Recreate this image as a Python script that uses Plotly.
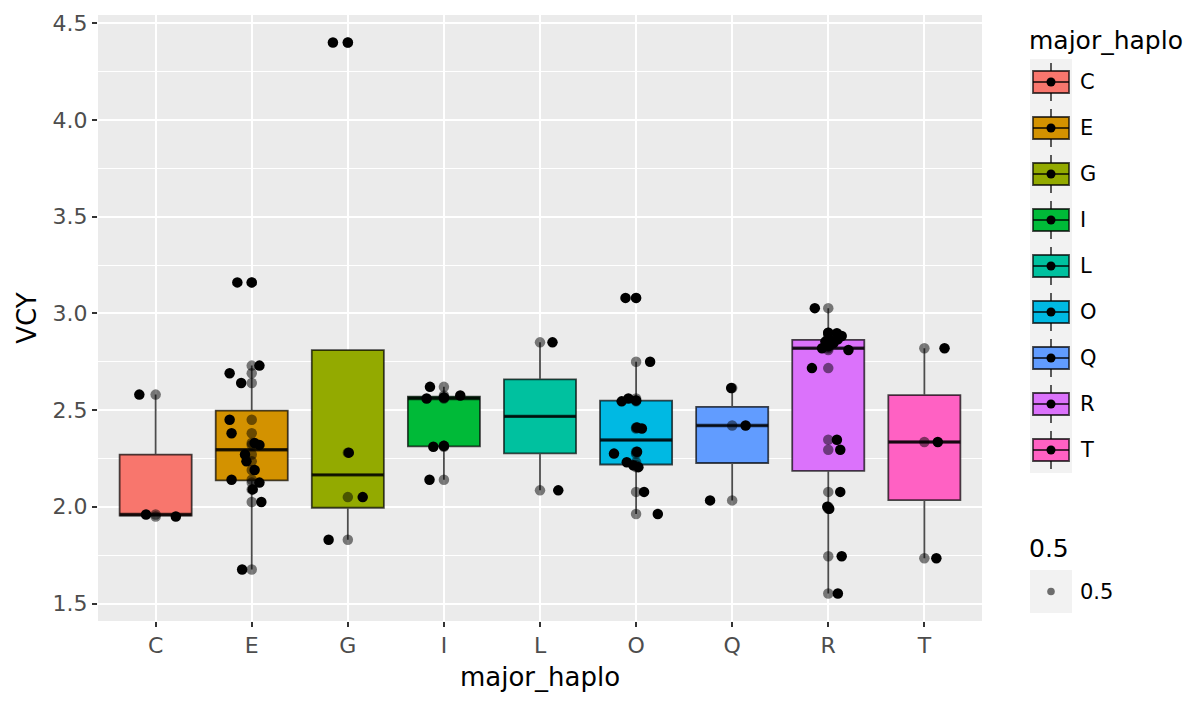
import numpy as np
import plotly.graph_objects as go

# Haplogroup categories and VCY measurements per group
categories = ["C", "E", "G", "I", "L", "O", "Q", "R", "T"]

vcy_C = [1.95, 1.96, 2.58]
vcy_E = [1.676, 2.025, 2.09, 2.125, 2.14, 2.19, 2.235, 2.27, 2.32, 2.33,
         2.38, 2.45, 2.64, 2.69, 2.73, 3.16]
vcy_G = [1.83, 2.05, 2.28, 4.40]
vcy_I = [2.14, 2.31, 2.315, 2.56, 2.565, 2.575, 2.62]
vcy_L = [2.085, 2.85]
vcy_O = [1.963, 2.077, 2.205, 2.215, 2.23, 2.275, 2.285, 2.405, 2.41,
         2.545, 2.55, 2.56, 2.75, 3.08]
vcy_Q = [2.033, 2.42, 2.614]
vcy_R = [1.552, 1.744, 1.99, 2.00, 2.077, 2.295, 2.347, 2.717, 2.811, 2.82,
         2.83, 2.846, 2.854, 2.86, 2.866, 2.883, 2.897, 2.90, 3.027]
vcy_T = [1.734, 2.335, 2.82]

# Horizontal jitter offsets (category units) for the jittered layer
jit_C = [0.21, -0.10, -0.17]
jit_E = [-0.10, 0.10, 0.01, 0.08, -0.21, 0.03, -0.055, -0.07, 0.08, 0.03,
         -0.21, -0.23, -0.11, -0.23, 0.08, -0.15]
jit_G = [-0.20, 0.155, 0.01, -0.155]
jit_I = [-0.15, -0.11, 0.0, -0.18, 0.0, 0.17, -0.145]
jit_L = [0.19, 0.13]
jit_O = [0.226, 0.083, 0.024, -0.03, -0.097, -0.23, 0.01, 0.06, 0.01,
         -0.15, 0.0, -0.08, 0.146, -0.11]
jit_Q = [-0.23, 0.14, -0.01]
jit_R = [0.10, 0.14, 0.01, -0.01, 0.125, 0.125, 0.09, -0.17, 0.21, -0.065,
         0.0, 0.055, -0.03, 0.02, 0.10, 0.14, 0.09, 0.0, -0.14]
jit_T = [0.125, 0.14, 0.21]

group_values = [vcy_C, vcy_E, vcy_G, vcy_I, vcy_L, vcy_O, vcy_Q, vcy_R, vcy_T]
group_jitter = [jit_C, jit_E, jit_G, jit_I, jit_L, jit_O, jit_Q, jit_R, jit_T]

# ggplot2 default hue palette for 9 levels
fill_colors = ["#F8766D", "#D39200", "#93AA00", "#00BA38", "#00C19F",
               "#00B9E3", "#619CFF", "#DB72FB", "#FF61C3"]

alpha_label = "0.5"

FONT = "DejaVu Sans"
TICK_SIZE = 22
TITLE_SIZE = 26
PT_SIZE = 10.5
BOX_LINE = "rgba(0,0,0,0.7)"
BOX_WIDTH = 0.75
W, H = 1191, 702
ML, MR, MT, MB = 98, 209, 15, 81

fig = go.Figure()

all_vals = np.concatenate([np.asarray(v, float) for v in group_values])
span = all_vals.max() - all_vals.min()
y_range = [all_vals.min() - 0.05 * span, all_vals.max() + 0.05 * span]

med_x, med_y, out_x, out_y = [], [], [], []
for i, (vals, col) in enumerate(zip(group_values, fill_colors)):
    v = np.asarray(vals, float)
    q1, med, q3 = np.percentile(v, [25, 50, 75])
    iqr = q3 - q1
    inside = v[(v >= q1 - 1.5 * iqr) & (v <= q3 + 1.5 * iqr)]
    lo = min(inside.min(), q1)
    hi = max(inside.max(), q3)
    outliers = v[(v < q1 - 1.5 * iqr) | (v > q3 + 1.5 * iqr)]
    fig.add_trace(go.Box(
        x=[i], q1=[q1], median=[med], q3=[q3],
        lowerfence=[lo], upperfence=[hi],
        width=BOX_WIDTH, whiskerwidth=0, boxpoints=False,
        fillcolor=col, line=dict(color=BOX_LINE, width=1.8),
        showlegend=False, hoverinfo="skip",
    ))
    med_x += [i - BOX_WIDTH / 2, i + BOX_WIDTH / 2, None]
    med_y += [med, med, None]
    out_x += [i] * len(outliers)
    out_y += list(outliers)

# Thicker median bars
fig.add_trace(go.Scatter(x=med_x, y=med_y, mode="lines",
                         line=dict(color=BOX_LINE, width=3.4),
                         showlegend=False, hoverinfo="skip"))
# Box-plot outliers
fig.add_trace(go.Scatter(x=out_x, y=out_y, mode="markers",
                         marker=dict(color="black", size=PT_SIZE, line=dict(width=0)),
                         showlegend=False, hoverinfo="skip"))

# Semi-transparent points at the category centre, then the jittered copies
cx, cy, jx, jy = [], [], [], []
for i, (vals, jit) in enumerate(zip(group_values, group_jitter)):
    cx += [i] * len(vals)
    cy += list(vals)
    jx += [i + d for d in jit]
    jy += list(vals)

fig.add_trace(go.Scatter(x=cx, y=cy, mode="markers",
                         marker=dict(color="rgba(0,0,0,0.5)", size=PT_SIZE, line=dict(width=0)),
                         showlegend=False, hoverinfo="skip"))
fig.add_trace(go.Scatter(x=jx, y=jy, mode="markers",
                         marker=dict(color="black", size=PT_SIZE, line=dict(width=0)),
                         showlegend=False, hoverinfo="skip"))

# ---- hand-built legends (pixel positions converted to paper coords) ----
PW = W - ML - MR
PH = H - MT - MB


def px(x):
    return (x - ML) / PW


def py(y):
    return 1 - (y - MT) / PH


shapes = []
annotations = []

annotations.append(dict(x=px(1027), y=py(40), xref="paper", yref="paper",
                        text="major_haplo", showarrow=False, xanchor="left",
                        yanchor="middle", font=dict(family=FONT, size=TITLE_SIZE - 1, color="black")))

key_x0, key_x1 = 1030, 1072
key_cx = (key_x0 + key_x1) / 2
key_h = 46
for k, (lab, col) in enumerate(zip(categories, fill_colors)):
    yc = 82 + key_h * k
    shapes.append(dict(type="rect", xref="paper", yref="paper",
                       x0=px(key_x0), x1=px(key_x1), y0=py(yc - key_h / 2), y1=py(yc + key_h / 2),
                       fillcolor="#F2F2F2", line=dict(width=0), layer="above"))
    shapes.append(dict(type="line", xref="paper", yref="paper",
                       x0=px(key_cx), x1=px(key_cx), y0=py(yc - 19), y1=py(yc + 19),
                       line=dict(color=BOX_LINE, width=1.8), layer="above"))
    shapes.append(dict(type="rect", xref="paper", yref="paper",
                       x0=px(key_x0 + 3), x1=px(key_x1 - 3), y0=py(yc - 11), y1=py(yc + 11),
                       fillcolor=col, line=dict(color=BOX_LINE, width=1.8), layer="above"))
    shapes.append(dict(type="line", xref="paper", yref="paper",
                       x0=px(key_x0 + 3), x1=px(key_x1 - 3), y0=py(yc), y1=py(yc),
                       line=dict(color=BOX_LINE, width=1.8), layer="above"))
    shapes.append(dict(type="circle", xref="paper", yref="paper",
                       x0=px(key_cx - 4.5), x1=px(key_cx + 4.5), y0=py(yc - 4.5), y1=py(yc + 4.5),
                       fillcolor="black", line=dict(width=0), layer="above"))
    annotations.append(dict(x=px(1078), y=py(yc), xref="paper", yref="paper",
                            text=lab, showarrow=False, xanchor="left", yanchor="middle",
                            font=dict(family=FONT, size=TICK_SIZE - 1, color="black")))

# alpha legend
annotations.append(dict(x=px(1027), y=py(548), xref="paper", yref="paper",
                        text=alpha_label, showarrow=False, xanchor="left",
                        yanchor="middle", font=dict(family=FONT, size=TITLE_SIZE - 1, color="black")))
shapes.append(dict(type="rect", xref="paper", yref="paper",
                   x0=px(key_x0), x1=px(key_x1), y0=py(570), y1=py(613),
                   fillcolor="#F2F2F2", line=dict(width=0), layer="above"))
shapes.append(dict(type="circle", xref="paper", yref="paper",
                   x0=px(key_cx - 3.8), x1=px(key_cx + 3.8), y0=py(591.5 - 3.8), y1=py(591.5 + 3.8),
                   fillcolor="rgba(0,0,0,0.55)", line=dict(width=0), layer="above"))
annotations.append(dict(x=px(1078), y=py(592), xref="paper", yref="paper",
                        text=alpha_label, showarrow=False, xanchor="left", yanchor="middle",
                        font=dict(family=FONT, size=TICK_SIZE - 1, color="black")))

fig.update_layout(
    width=W, height=H,
    margin=dict(l=ML, r=MR, t=MT, b=MB, autoexpand=False),
    paper_bgcolor="white", plot_bgcolor="#EBEBEB",
    boxmode="overlay", showlegend=False,
    font=dict(family=FONT),
    shapes=shapes, annotations=annotations,
)
fig.update_xaxes(
    range=[-0.6, len(categories) - 0.4],
    tickmode="array", tickvals=list(range(len(categories))), ticktext=categories,
    showgrid=True, gridcolor="white", gridwidth=2, zeroline=False,
    ticks="outside", ticklen=5, tickwidth=1.5, tickcolor="#333333",
    tickfont=dict(family=FONT, size=TICK_SIZE, color="#4D4D4D"),
    title=dict(text="major_haplo", font=dict(family=FONT, size=TITLE_SIZE, color="black"), standoff=10),
    automargin=False, showline=False,
)
fig.update_yaxes(
    range=y_range, tick0=1.5, dtick=0.5, tickformat=".1f",
    showgrid=True, gridcolor="white", gridwidth=2, zeroline=False,
    ticks="outside", ticklen=5, tickwidth=1.5, tickcolor="#333333",
    tickfont=dict(family=FONT, size=TICK_SIZE, color="#4D4D4D"),
    minor=dict(dtick=0.25, tick0=1.5, showgrid=True, gridcolor="white", gridwidth=1, ticks=""),
    title=dict(text="VCY", font=dict(family=FONT, size=TITLE_SIZE, color="black"), standoff=8),
    automargin=False, showline=False,
)

fig.write_html("out.html")
